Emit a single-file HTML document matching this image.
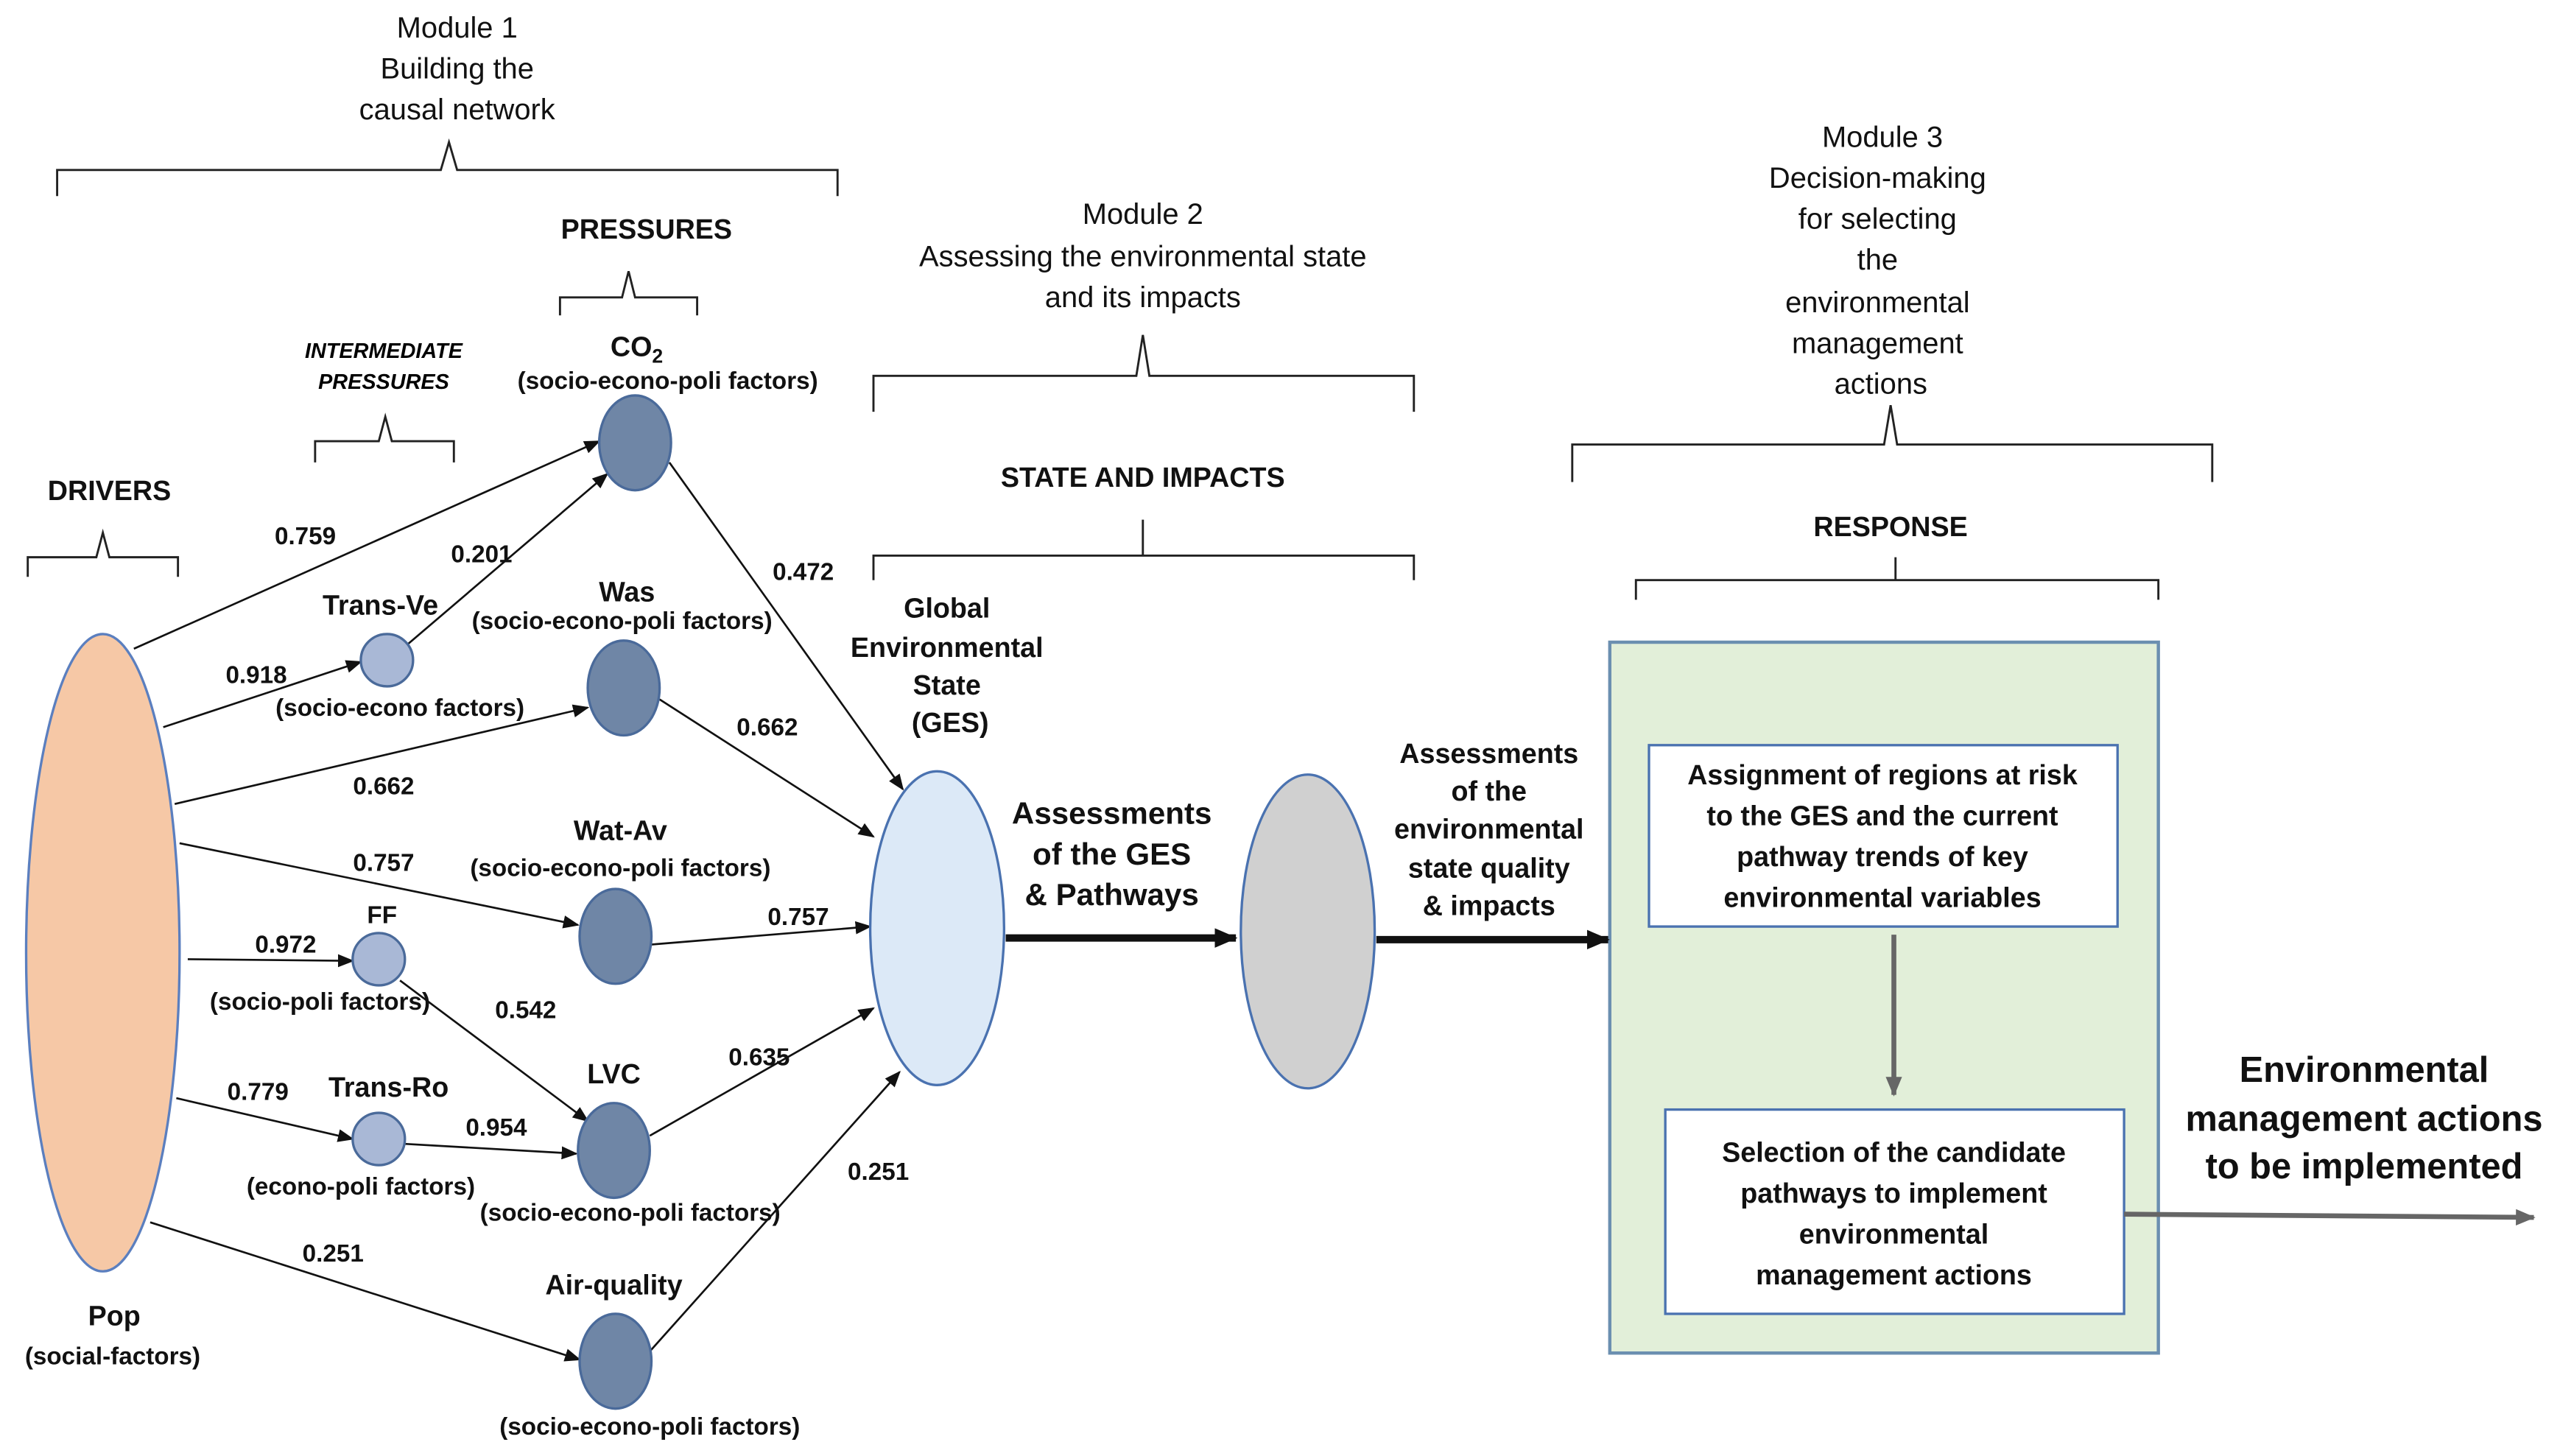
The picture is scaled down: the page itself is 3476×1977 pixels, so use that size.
<!DOCTYPE html>
<html><head><meta charset="utf-8"><style>html,body{margin:0;padding:0;background:#fff}svg{display:block}</style></head>
<body>
<svg width="3476" height="1977" viewBox="0 0 1568 891" preserveAspectRatio="none" xmlns="http://www.w3.org/2000/svg" font-family="Liberation Sans, sans-serif">
<defs>
<marker id="a" markerWidth="10" markerHeight="8" refX="9" refY="4" orient="auto" markerUnits="userSpaceOnUse"><path d="M0,0 L10,4 L0,8 z" fill="#111"/></marker>
<marker id="b" markerWidth="14" markerHeight="12" refX="13" refY="6" orient="auto" markerUnits="userSpaceOnUse"><path d="M0,0 L14,6 L0,12 z" fill="#111"/></marker>
<marker id="g" markerWidth="12" markerHeight="10" refX="11" refY="5" orient="auto" markerUnits="userSpaceOnUse"><path d="M0,0 L12,5 L0,10 z" fill="#666"/></marker>
</defs>
<g fill="none" stroke="#222" stroke-width="1.3">
<path d="M35,120 V104 H270 L275,87 L280,104 H513 V120"/>
<path d="M343,193 V182 H381 L385,166 L389,182 H427 V193"/>
<path d="M193,283 V270 H232 L236,255 L240,270 H278 V283"/>
<path d="M17,353 V341 H59 L63,326 L67,341 H109 V353"/>
<path d="M535,252 V230 H696 L700,205 L704,230 H866 V252"/>
<path d="M535,355 V340 H700 V318 M700,340 H866 V355"/>
<path d="M963,295 V272 H1154 L1158,248 L1162,272 H1355 V295"/>
<path d="M1002,367 V355 H1161 V341 M1161,355 H1322 V367"/>
</g>
<g font-size="18" text-anchor="middle" fill="#111">
<text x="280" y="23">Module 1</text><text x="280" y="48">Building the</text><text x="280" y="73">causal network</text>
<text x="700" y="137">Module 2</text><text x="700" y="163">Assessing the environmental state</text><text x="700" y="188">and its impacts</text>
<text x="1153" y="90">Module 3</text><text x="1150" y="115">Decision-making</text><text x="1150" y="140">for selecting</text><text x="1150" y="165">the</text><text x="1150" y="191">environmental</text><text x="1150" y="216">management</text><text x="1152" y="241">actions</text>
</g>
<g font-size="17" font-weight="bold" text-anchor="middle" fill="#111">
<text x="396" y="146">PRESSURES</text><text x="67" y="306">DRIVERS</text><text x="700" y="298">STATE AND IMPACTS</text><text x="1158" y="328">RESPONSE</text>
</g>
<g font-size="13" font-weight="bold" font-style="italic" text-anchor="middle"><text x="235" y="219">INTERMEDIATE</text><text x="235" y="238">PRESSURES</text></g>
<rect x="986" y="393" width="336" height="435" fill="#e2efd9" stroke="#6b8fb0" stroke-width="2"/>
<rect x="1010" y="456" width="287" height="111" fill="#fff" stroke="#4a72b0" stroke-width="1.5"/>
<rect x="1020" y="679" width="281" height="125" fill="#fff" stroke="#4a72b0" stroke-width="1.5"/>
<g stroke="#111" stroke-width="1.2" marker-end="url(#a)">
<line x1="82" y1="397" x2="367" y2="270"/><line x1="100" y1="445" x2="221" y2="405"/><line x1="250" y1="394" x2="372" y2="290"/>
<line x1="107" y1="492" x2="360" y2="433"/><line x1="110" y1="516" x2="354" y2="566"/><line x1="115" y1="587" x2="216" y2="588"/>
<line x1="245" y1="600" x2="360" y2="686"/><line x1="108" y1="672" x2="216" y2="697"/><line x1="248" y1="700" x2="353" y2="706"/>
<line x1="92" y1="748" x2="355" y2="832"/><line x1="410" y1="283" x2="553" y2="483"/><line x1="404" y1="428" x2="535" y2="512"/>
<line x1="399" y1="578" x2="533" y2="567"/><line x1="398" y1="695" x2="535" y2="617"/><line x1="398" y1="827" x2="551" y2="656"/>
</g>
<g stroke="#111" stroke-width="4.5" marker-end="url(#b)"><line x1="616" y1="574" x2="757" y2="574"/><line x1="843" y1="575" x2="985" y2="575"/></g>
<g stroke="#666" stroke-width="3" marker-end="url(#g)"><line x1="1160" y1="572" x2="1160" y2="670"/><line x1="1301" y1="743" x2="1552" y2="745"/></g>
<ellipse cx="63" cy="583" rx="47" ry="195" fill="#f6c8a6" stroke="#5b7fbf" stroke-width="1.5"/>
<g fill="#6f86a6" stroke="#4a6a9a" stroke-width="1.5">
<ellipse cx="389" cy="271" rx="22" ry="29"/><ellipse cx="382" cy="421" rx="22" ry="29"/><ellipse cx="377" cy="573" rx="22" ry="29"/><ellipse cx="376" cy="704" rx="22" ry="29"/><ellipse cx="377" cy="833" rx="22" ry="29"/>
</g>
<g fill="#a9b8d6" stroke="#4a6a9a" stroke-width="1.5"><circle cx="237" cy="404" r="16"/><circle cx="232" cy="587" r="16"/><circle cx="232" cy="697" r="16"/></g>
<ellipse cx="574" cy="568" rx="41" ry="96" fill="#dce9f7" stroke="#4a72b0" stroke-width="1.5"/>
<ellipse cx="801" cy="570" rx="41" ry="96" fill="#d0d0d0" stroke="#4a72b0" stroke-width="1.5"/>
<g font-size="15" font-weight="bold" text-anchor="middle" fill="#111">
<text x="187" y="333">0.759</text><text x="157" y="418">0.918</text><text x="295" y="344">0.201</text><text x="235" y="486">0.662</text><text x="235" y="533">0.757</text><text x="175" y="583">0.972</text><text x="322" y="623">0.542</text><text x="158" y="673">0.779</text><text x="304" y="695">0.954</text><text x="204" y="772">0.251</text><text x="492" y="355">0.472</text><text x="470" y="450">0.662</text><text x="489" y="566">0.757</text><text x="465" y="652">0.635</text><text x="538" y="722">0.251</text>
<text x="390" y="218" font-size="17">CO<tspan font-size="12" dy="4">2</tspan></text><text x="409" y="238">(socio-econo-poli factors)</text>
<text x="384" y="368" font-size="17">Was</text><text x="381" y="385">(socio-econo-poli factors)</text>
<text x="380" y="514" font-size="17">Wat-Av</text><text x="380" y="536">(socio-econo-poli factors)</text>
<text x="376" y="663" font-size="17">LVC</text><text x="386" y="747">(socio-econo-poli factors)</text>
<text x="376" y="792" font-size="17">Air-quality</text><text x="398" y="878">(socio-econo-poli factors)</text>
<text x="233" y="376" font-size="17">Trans-Ve</text><text x="245" y="438">(socio-econo factors)</text>
<text x="234" y="565">FF</text><text x="196" y="618">(socio-poli factors)</text>
<text x="238" y="671" font-size="17">Trans-Ro</text><text x="221" y="731">(econo-poli factors)</text>
<text x="70" y="811" font-size="17">Pop</text><text x="69" y="835">(social-factors)</text>
<g font-size="17"><text x="580" y="378">Global</text><text x="580" y="402">Environmental</text><text x="580" y="425">State</text><text x="582" y="448">(GES)</text>
<text x="912" y="467">Assessments</text><text x="912" y="490">of the</text><text x="912" y="513">environmental</text><text x="912" y="537">state quality</text><text x="912" y="560">&amp; impacts</text>
<text x="1153" y="480">Assignment of regions at risk</text><text x="1153" y="505">to the GES and the current</text><text x="1153" y="530">pathway trends of key</text><text x="1153" y="555">environmental variables</text>
<text x="1160" y="711">Selection of the candidate</text><text x="1160" y="736">pathways to implement</text><text x="1160" y="761">environmental</text><text x="1160" y="786">management actions</text></g>
<g font-size="19"><text x="681" y="504">Assessments</text><text x="681" y="529">of the GES</text><text x="681" y="554">&amp; Pathways</text></g>
<g font-size="22"><text x="1448" y="662">Environmental</text><text x="1448" y="692">management actions</text><text x="1448" y="721">to be implemented</text></g>
</g>
</svg>
</body></html>
